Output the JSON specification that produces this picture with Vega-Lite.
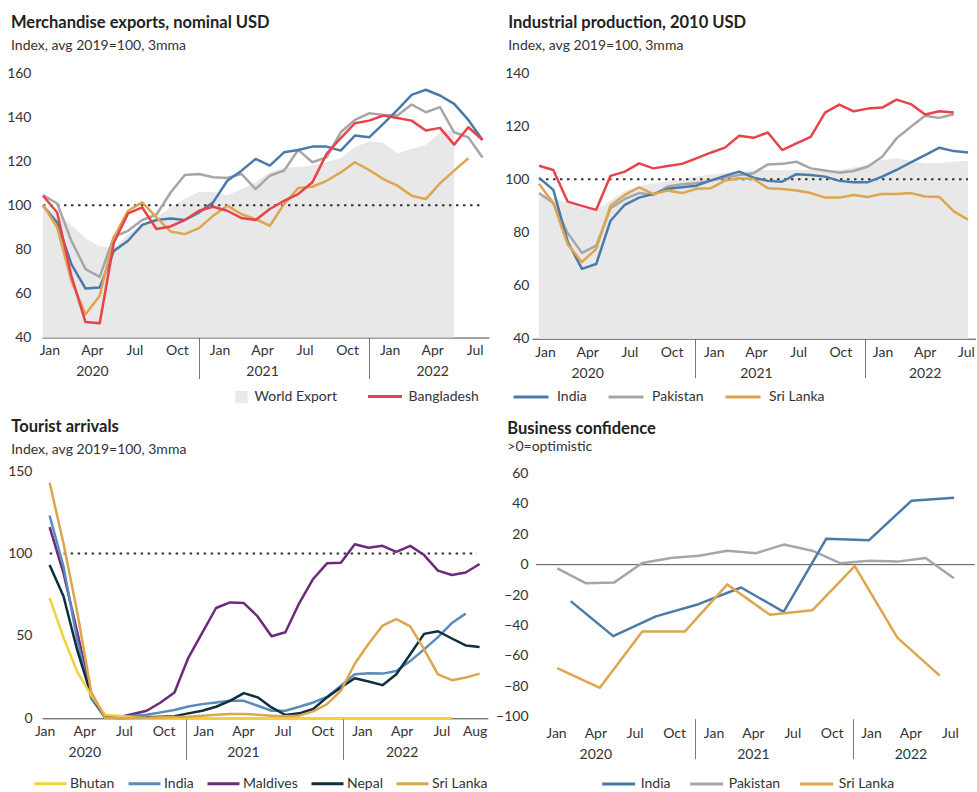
{
 "$schema": "https://vega.github.io/schema/vega-lite/v6.json",
 "background": "white",
 "padding": {"left": 6, "top": 15, "right": 0, "bottom": 0},
 "config": {
  "view": {"stroke": null},
  "font": "Lato",
  "axis": {"labelFont": "Lato", "labelFontSize": 14, "labelColor": "#333", "grid": false, "labelOverlap": false, "labelFlush": false, "labelBound": false},
  "legend": {"labelFont": "Lato", "labelFontSize": 14, "labelColor": "#333"},
  "title": {"font": "Lato", "fontSize": 16.5, "fontWeight": "bold", "color": "#222", "subtitleFont": "Lato", "subtitleFontSize": 14, "subtitleColor": "#333", "subtitlePadding": 7.5, "anchor": "start", "frame": "group"}
 },
 "datasets": {
  "w1": [
   {"t":0,"v":100},{"t":1,"v":96},{"t":2,"v":91},{"t":3,"v":85},{"t":4,"v":81.5},{"t":5,"v":80.5},{"t":6,"v":87},{"t":7,"v":91},{"t":8,"v":94.5},{"t":9,"v":99},
   {"t":10,"v":103},{"t":11,"v":106},{"t":12,"v":106},{"t":13,"v":104.5},{"t":14,"v":107.3},{"t":15,"v":110.4},{"t":16,"v":115},{"t":17,"v":117},{"t":18,"v":117.5},{"t":19,"v":118},
   {"t":20,"v":119.5},{"t":21,"v":121.4},{"t":22,"v":126.3},{"t":23,"v":129},{"t":24,"v":128.3},{"t":25,"v":123.6},{"t":26,"v":125.5},{"t":27,"v":127.5},{"t":28,"v":133},{"t":29,"v":134.5}
  ],
  "l1": [
   {"t":0,"v":104.6,"c":"Pakistan"},{"t":1,"v":100.8,"c":"Pakistan"},{"t":2,"v":83.9,"c":"Pakistan"},{"t":3,"v":71,"c":"Pakistan"},{"t":4,"v":67.5,"c":"Pakistan"},{"t":5,"v":85.7,"c":"Pakistan"},{"t":6,"v":88.4,"c":"Pakistan"},{"t":7,"v":93.3,"c":"Pakistan"},{"t":8,"v":95.7,"c":"Pakistan"},{"t":9,"v":105.8,"c":"Pakistan"},
   {"t":10,"v":113.7,"c":"Pakistan"},{"t":11,"v":114.2,"c":"Pakistan"},{"t":12,"v":112.7,"c":"Pakistan"},{"t":13,"v":112.4,"c":"Pakistan"},{"t":14,"v":114.2,"c":"Pakistan"},{"t":15,"v":107.3,"c":"Pakistan"},{"t":16,"v":113.4,"c":"Pakistan"},{"t":17,"v":115.7,"c":"Pakistan"},{"t":18,"v":125.1,"c":"Pakistan"},{"t":19,"v":119.5,"c":"Pakistan"},
   {"t":20,"v":121.7,"c":"Pakistan"},{"t":21,"v":133.1,"c":"Pakistan"},{"t":22,"v":138.7,"c":"Pakistan"},{"t":23,"v":141.7,"c":"Pakistan"},{"t":24,"v":141,"c":"Pakistan"},{"t":25,"v":140.7,"c":"Pakistan"},{"t":26,"v":145.7,"c":"Pakistan"},{"t":27,"v":142.2,"c":"Pakistan"},{"t":28,"v":144.5,"c":"Pakistan"},{"t":29,"v":133.1,"c":"Pakistan"},
   {"t":30,"v":130.8,"c":"Pakistan"},{"t":31,"v":121.7,"c":"Pakistan"},
   {"t":0,"v":99.8,"c":"India"},{"t":1,"v":92.2,"c":"India"},{"t":2,"v":73.3,"c":"India"},{"t":3,"v":62.2,"c":"India"},{"t":4,"v":62.7,"c":"India"},{"t":5,"v":79.3,"c":"India"},{"t":6,"v":83.9,"c":"India"},{"t":7,"v":91.1,"c":"India"},{"t":8,"v":93.3,"c":"India"},{"t":9,"v":94,"c":"India"},
   {"t":10,"v":93.3,"c":"India"},{"t":11,"v":96.7,"c":"India"},{"t":12,"v":101.3,"c":"India"},{"t":13,"v":111.1,"c":"India"},{"t":14,"v":115.7,"c":"India"},{"t":15,"v":121,"c":"India"},{"t":16,"v":118,"c":"India"},{"t":17,"v":124,"c":"India"},{"t":18,"v":125.1,"c":"India"},{"t":19,"v":126.6,"c":"India"},
   {"t":20,"v":126.6,"c":"India"},{"t":21,"v":124.8,"c":"India"},{"t":22,"v":131.6,"c":"India"},{"t":23,"v":130.8,"c":"India"},{"t":24,"v":136.9,"c":"India"},{"t":25,"v":143.3,"c":"India"},{"t":26,"v":150.1,"c":"India"},{"t":27,"v":152.4,"c":"India"},{"t":28,"v":149.8,"c":"India"},{"t":29,"v":146,"c":"India"},
   {"t":30,"v":138.7,"c":"India"},{"t":31,"v":129.6,"c":"India"},
   {"t":0,"v":100.2,"c":"Sri Lanka"},{"t":1,"v":89.9,"c":"Sri Lanka"},{"t":2,"v":65.7,"c":"Sri Lanka"},{"t":3,"v":50.5,"c":"Sri Lanka"},{"t":4,"v":58.9,"c":"Sri Lanka"},{"t":5,"v":85.4,"c":"Sri Lanka"},{"t":6,"v":97.5,"c":"Sri Lanka"},{"t":7,"v":101.3,"c":"Sri Lanka"},{"t":8,"v":94.5,"c":"Sri Lanka"},{"t":9,"v":88.1,"c":"Sri Lanka"},
   {"t":10,"v":86.9,"c":"Sri Lanka"},{"t":11,"v":89.6,"c":"Sri Lanka"},{"t":12,"v":95.2,"c":"Sri Lanka"},{"t":13,"v":99.8,"c":"Sri Lanka"},{"t":14,"v":96,"c":"Sri Lanka"},{"t":15,"v":93.7,"c":"Sri Lanka"},{"t":16,"v":90.7,"c":"Sri Lanka"},{"t":17,"v":100.5,"c":"Sri Lanka"},{"t":18,"v":107.8,"c":"Sri Lanka"},{"t":19,"v":108.4,"c":"Sri Lanka"},
   {"t":20,"v":111.1,"c":"Sri Lanka"},{"t":21,"v":114.9,"c":"Sri Lanka"},{"t":22,"v":119.5,"c":"Sri Lanka"},{"t":23,"v":116,"c":"Sri Lanka"},{"t":24,"v":111.9,"c":"Sri Lanka"},{"t":25,"v":108.9,"c":"Sri Lanka"},{"t":26,"v":104.3,"c":"Sri Lanka"},{"t":27,"v":102.8,"c":"Sri Lanka"},{"t":28,"v":109.9,"c":"Sri Lanka"},{"t":29,"v":115.7,"c":"Sri Lanka"},
   {"t":30,"v":121.3,"c":"Sri Lanka"},
   {"t":0,"v":104.3,"c":"Bangladesh"},{"t":1,"v":96.7,"c":"Bangladesh"},{"t":2,"v":68,"c":"Bangladesh"},{"t":3,"v":47,"c":"Bangladesh"},{"t":4,"v":46.5,"c":"Bangladesh"},{"t":5,"v":83,"c":"Bangladesh"},{"t":6,"v":96.3,"c":"Bangladesh"},{"t":7,"v":99,"c":"Bangladesh"},{"t":8,"v":89.2,"c":"Bangladesh"},{"t":9,"v":90.4,"c":"Bangladesh"},
   {"t":10,"v":93.3,"c":"Bangladesh"},{"t":11,"v":97.5,"c":"Bangladesh"},{"t":12,"v":99.3,"c":"Bangladesh"},{"t":13,"v":97.5,"c":"Bangladesh"},{"t":14,"v":94.2,"c":"Bangladesh"},{"t":15,"v":93.3,"c":"Bangladesh"},{"t":16,"v":98.3,"c":"Bangladesh"},{"t":17,"v":102,"c":"Bangladesh"},{"t":18,"v":105.1,"c":"Bangladesh"},{"t":19,"v":110.4,"c":"Bangladesh"},
   {"t":20,"v":123.3,"c":"Bangladesh"},{"t":21,"v":130.5,"c":"Bangladesh"},{"t":22,"v":137.2,"c":"Bangladesh"},{"t":23,"v":138.4,"c":"Bangladesh"},{"t":24,"v":140.7,"c":"Bangladesh"},{"t":25,"v":139.6,"c":"Bangladesh"},{"t":26,"v":138.4,"c":"Bangladesh"},{"t":27,"v":133.9,"c":"Bangladesh"},{"t":28,"v":135.1,"c":"Bangladesh"},{"t":29,"v":127.5,"c":"Bangladesh"},
   {"t":30,"v":135.4,"c":"Bangladesh"},{"t":31,"v":129.6,"c":"Bangladesh"}
  ],
  "w2": [
   {"t":0,"v":95},{"t":1,"v":93},{"t":2,"v":91},{"t":3,"v":89},{"t":4,"v":88.5},{"t":5,"v":92},{"t":6,"v":95.5},{"t":7,"v":97.5},{"t":8,"v":98.5},{"t":9,"v":99.3},
   {"t":10,"v":100},{"t":11,"v":101},{"t":12,"v":101.8},{"t":13,"v":102.5},{"t":14,"v":103},{"t":15,"v":103.3},{"t":16,"v":103.5},{"t":17,"v":103.4},{"t":18,"v":103.5},{"t":19,"v":103.5},
   {"t":20,"v":103.3},{"t":21,"v":103.5},{"t":22,"v":104.4},{"t":23,"v":105.4},{"t":24,"v":107.3},{"t":25,"v":107.9},{"t":26,"v":107},{"t":27,"v":106},{"t":28,"v":106},{"t":29,"v":106.6},{"t":30,"v":107}
  ],
  "l2": [
   {"t":0,"v":94.8,"c":"Pakistan"},{"t":1,"v":91,"c":"Pakistan"},{"t":2,"v":79.8,"c":"Pakistan"},{"t":3,"v":72.3,"c":"Pakistan"},{"t":4,"v":75,"c":"Pakistan"},{"t":5,"v":89.1,"c":"Pakistan"},{"t":6,"v":92.6,"c":"Pakistan"},{"t":7,"v":94.8,"c":"Pakistan"},{"t":8,"v":94.1,"c":"Pakistan"},{"t":9,"v":97.3,"c":"Pakistan"},
   {"t":10,"v":98.1,"c":"Pakistan"},{"t":11,"v":98.5,"c":"Pakistan"},{"t":12,"v":99.5,"c":"Pakistan"},{"t":13,"v":100.6,"c":"Pakistan"},{"t":14,"v":101.6,"c":"Pakistan"},{"t":15,"v":102.3,"c":"Pakistan"},{"t":16,"v":105.6,"c":"Pakistan"},{"t":17,"v":105.8,"c":"Pakistan"},{"t":18,"v":106.6,"c":"Pakistan"},{"t":19,"v":104.1,"c":"Pakistan"},
   {"t":20,"v":103.3,"c":"Pakistan"},{"t":21,"v":102.5,"c":"Pakistan"},{"t":22,"v":103.1,"c":"Pakistan"},{"t":23,"v":104.8,"c":"Pakistan"},{"t":24,"v":108.5,"c":"Pakistan"},{"t":25,"v":115.4,"c":"Pakistan"},{"t":26,"v":119.8,"c":"Pakistan"},{"t":27,"v":123.9,"c":"Pakistan"},{"t":28,"v":123.1,"c":"Pakistan"},{"t":29,"v":124.5,"c":"Pakistan"},
   {"t":0,"v":100.6,"c":"India"},{"t":1,"v":96,"c":"India"},{"t":2,"v":76.6,"c":"India"},{"t":3,"v":66.3,"c":"India"},{"t":4,"v":68.1,"c":"India"},{"t":5,"v":84.4,"c":"India"},{"t":6,"v":90.4,"c":"India"},{"t":7,"v":93.1,"c":"India"},{"t":8,"v":94.4,"c":"India"},{"t":9,"v":96.4,"c":"India"},
   {"t":10,"v":97,"c":"India"},{"t":11,"v":97.6,"c":"India"},{"t":12,"v":99.5,"c":"India"},{"t":13,"v":101.3,"c":"India"},{"t":14,"v":102.9,"c":"India"},{"t":15,"v":100.6,"c":"India"},{"t":16,"v":99.4,"c":"India"},{"t":17,"v":99.1,"c":"India"},{"t":18,"v":101.9,"c":"India"},{"t":19,"v":101.6,"c":"India"},
   {"t":20,"v":101,"c":"India"},{"t":21,"v":99.4,"c":"India"},{"t":22,"v":98.9,"c":"India"},{"t":23,"v":98.9,"c":"India"},{"t":24,"v":101,"c":"India"},{"t":25,"v":103.5,"c":"India"},{"t":26,"v":106.4,"c":"India"},{"t":27,"v":109.1,"c":"India"},{"t":28,"v":111.9,"c":"India"},{"t":29,"v":110.6,"c":"India"},{"t":30,"v":110.1,"c":"India"},
   {"t":0,"v":98.3,"c":"Sri Lanka"},{"t":1,"v":91,"c":"Sri Lanka"},{"t":2,"v":75.6,"c":"Sri Lanka"},{"t":3,"v":68.8,"c":"Sri Lanka"},{"t":4,"v":73.8,"c":"Sri Lanka"},{"t":5,"v":90.1,"c":"Sri Lanka"},{"t":6,"v":94.1,"c":"Sri Lanka"},{"t":7,"v":97,"c":"Sri Lanka"},{"t":8,"v":94.4,"c":"Sri Lanka"},{"t":9,"v":95.8,"c":"Sri Lanka"},
   {"t":10,"v":94.8,"c":"Sri Lanka"},{"t":11,"v":96.4,"c":"Sri Lanka"},{"t":12,"v":96.6,"c":"Sri Lanka"},{"t":13,"v":99.5,"c":"Sri Lanka"},{"t":14,"v":100.4,"c":"Sri Lanka"},{"t":15,"v":100.1,"c":"Sri Lanka"},{"t":16,"v":96.6,"c":"Sri Lanka"},{"t":17,"v":96.3,"c":"Sri Lanka"},{"t":18,"v":95.8,"c":"Sri Lanka"},{"t":19,"v":94.8,"c":"Sri Lanka"},
   {"t":20,"v":93.1,"c":"Sri Lanka"},{"t":21,"v":93.1,"c":"Sri Lanka"},{"t":22,"v":94.1,"c":"Sri Lanka"},{"t":23,"v":93.3,"c":"Sri Lanka"},{"t":24,"v":94.5,"c":"Sri Lanka"},{"t":25,"v":94.5,"c":"Sri Lanka"},{"t":26,"v":94.8,"c":"Sri Lanka"},{"t":27,"v":93.5,"c":"Sri Lanka"},{"t":28,"v":93.3,"c":"Sri Lanka"},{"t":29,"v":87.9,"c":"Sri Lanka"},{"t":30,"v":84.8,"c":"Sri Lanka"},
   {"t":0,"v":105.1,"c":"Bangladesh"},{"t":1,"v":103.5,"c":"Bangladesh"},{"t":2,"v":91.6,"c":"Bangladesh"},{"t":3,"v":90,"c":"Bangladesh"},{"t":4,"v":88.5,"c":"Bangladesh"},{"t":5,"v":101.3,"c":"Bangladesh"},{"t":6,"v":102.9,"c":"Bangladesh"},{"t":7,"v":106,"c":"Bangladesh"},{"t":8,"v":104.1,"c":"Bangladesh"},{"t":9,"v":105,"c":"Bangladesh"},
   {"t":10,"v":105.8,"c":"Bangladesh"},{"t":11,"v":107.9,"c":"Bangladesh"},{"t":12,"v":110,"c":"Bangladesh"},{"t":13,"v":111.9,"c":"Bangladesh"},{"t":14,"v":116.4,"c":"Bangladesh"},{"t":15,"v":115.6,"c":"Bangladesh"},{"t":16,"v":117.6,"c":"Bangladesh"},{"t":17,"v":111,"c":"Bangladesh"},{"t":18,"v":113.5,"c":"Bangladesh"},{"t":19,"v":116,"c":"Bangladesh"},
   {"t":20,"v":125.1,"c":"Bangladesh"},{"t":21,"v":128.1,"c":"Bangladesh"},{"t":22,"v":125.6,"c":"Bangladesh"},{"t":23,"v":126.6,"c":"Bangladesh"},{"t":24,"v":127,"c":"Bangladesh"},{"t":25,"v":130,"c":"Bangladesh"},{"t":26,"v":128.3,"c":"Bangladesh"},{"t":27,"v":124.4,"c":"Bangladesh"},{"t":28,"v":125.6,"c":"Bangladesh"},{"t":29,"v":125.1,"c":"Bangladesh"}
  ],
  "l3": [
   {"t":0,"v":116,"c":"Maldives"},{"t":1,"v":88,"c":"Maldives"},{"t":2,"v":52,"c":"Maldives"},{"t":3,"v":14,"c":"Maldives"},{"t":4,"v":0.3,"c":"Maldives"},{"t":5,"v":0.6,"c":"Maldives"},{"t":6,"v":2.6,"c":"Maldives"},{"t":7,"v":4.6,"c":"Maldives"},{"t":8,"v":9.6,"c":"Maldives"},{"t":9,"v":15.7,"c":"Maldives"},
   {"t":10,"v":36.7,"c":"Maldives"},{"t":11,"v":51.8,"c":"Maldives"},{"t":12,"v":66.9,"c":"Maldives"},{"t":13,"v":70.3,"c":"Maldives"},{"t":14,"v":69.9,"c":"Maldives"},{"t":15,"v":61.8,"c":"Maldives"},{"t":16,"v":49.8,"c":"Maldives"},{"t":17,"v":52.2,"c":"Maldives"},{"t":18,"v":69.9,"c":"Maldives"},{"t":19,"v":84.5,"c":"Maldives"},
   {"t":20,"v":94,"c":"Maldives"},{"t":21,"v":94.4,"c":"Maldives"},{"t":22,"v":105.6,"c":"Maldives"},{"t":23,"v":103.4,"c":"Maldives"},{"t":24,"v":104.6,"c":"Maldives"},{"t":25,"v":101,"c":"Maldives"},{"t":26,"v":104.6,"c":"Maldives"},{"t":27,"v":99,"c":"Maldives"},{"t":28,"v":89.6,"c":"Maldives"},{"t":29,"v":86.9,"c":"Maldives"},
   {"t":30,"v":88.4,"c":"Maldives"},{"t":31,"v":93.6,"c":"Maldives"},
   {"t":0,"v":123,"c":"India"},{"t":1,"v":92,"c":"India"},{"t":2,"v":47,"c":"India"},{"t":3,"v":12,"c":"India"},{"t":4,"v":0.3,"c":"India"},{"t":5,"v":0.6,"c":"India"},{"t":6,"v":1.6,"c":"India"},{"t":7,"v":2.2,"c":"India"},{"t":8,"v":3.6,"c":"India"},{"t":9,"v":5,"c":"India"},
   {"t":10,"v":7.2,"c":"India"},{"t":11,"v":8.6,"c":"India"},{"t":12,"v":9.6,"c":"India"},{"t":13,"v":10.6,"c":"India"},{"t":14,"v":10.6,"c":"India"},{"t":15,"v":7.6,"c":"India"},{"t":16,"v":4.6,"c":"India"},{"t":17,"v":4.6,"c":"India"},{"t":18,"v":7,"c":"India"},{"t":19,"v":9.6,"c":"India"},
   {"t":20,"v":13,"c":"India"},{"t":21,"v":19.7,"c":"India"},{"t":22,"v":26.7,"c":"India"},{"t":23,"v":27.3,"c":"India"},{"t":24,"v":27.1,"c":"India"},{"t":25,"v":28.7,"c":"India"},{"t":26,"v":34.7,"c":"India"},{"t":27,"v":41.8,"c":"India"},{"t":28,"v":49.2,"c":"India"},{"t":29,"v":57.8,"c":"India"},{"t":30,"v":63.5,"c":"India"},
   {"t":0,"v":93,"c":"Nepal"},{"t":1,"v":74,"c":"Nepal"},{"t":2,"v":41,"c":"Nepal"},{"t":3,"v":14,"c":"Nepal"},{"t":4,"v":0.6,"c":"Nepal"},{"t":5,"v":0.2,"c":"Nepal"},{"t":6,"v":0.4,"c":"Nepal"},{"t":7,"v":0.6,"c":"Nepal"},{"t":8,"v":1,"c":"Nepal"},{"t":9,"v":1.2,"c":"Nepal"},
   {"t":10,"v":3,"c":"Nepal"},{"t":11,"v":4.6,"c":"Nepal"},{"t":12,"v":7,"c":"Nepal"},{"t":13,"v":10.6,"c":"Nepal"},{"t":14,"v":15.3,"c":"Nepal"},{"t":15,"v":12.7,"c":"Nepal"},{"t":16,"v":6.6,"c":"Nepal"},{"t":17,"v":2,"c":"Nepal"},{"t":18,"v":3,"c":"Nepal"},{"t":19,"v":5.6,"c":"Nepal"},
   {"t":20,"v":12.7,"c":"Nepal"},{"t":21,"v":18.7,"c":"Nepal"},{"t":22,"v":24.3,"c":"Nepal"},{"t":23,"v":22.3,"c":"Nepal"},{"t":24,"v":20.1,"c":"Nepal"},{"t":25,"v":26.7,"c":"Nepal"},{"t":26,"v":38.8,"c":"Nepal"},{"t":27,"v":51.2,"c":"Nepal"},{"t":28,"v":52.8,"c":"Nepal"},{"t":29,"v":48.4,"c":"Nepal"},
   {"t":30,"v":44.2,"c":"Nepal"},{"t":31,"v":43.2,"c":"Nepal"},
   {"t":0,"v":73,"c":"Bhutan"},{"t":1,"v":49,"c":"Bhutan"},{"t":2,"v":28,"c":"Bhutan"},{"t":3,"v":14,"c":"Bhutan"},{"t":4,"v":2,"c":"Bhutan"},{"t":5,"v":1.6,"c":"Bhutan"},{"t":6,"v":0.6,"c":"Bhutan"},{"t":7,"v":0,"c":"Bhutan"},{"t":8,"v":0,"c":"Bhutan"},{"t":9,"v":0,"c":"Bhutan"},
   {"t":10,"v":0,"c":"Bhutan"},{"t":11,"v":0,"c":"Bhutan"},{"t":12,"v":0,"c":"Bhutan"},{"t":13,"v":0,"c":"Bhutan"},{"t":14,"v":0,"c":"Bhutan"},{"t":15,"v":0,"c":"Bhutan"},{"t":16,"v":0,"c":"Bhutan"},{"t":17,"v":0,"c":"Bhutan"},{"t":18,"v":0,"c":"Bhutan"},{"t":19,"v":0,"c":"Bhutan"},
   {"t":20,"v":0,"c":"Bhutan"},{"t":21,"v":0,"c":"Bhutan"},{"t":22,"v":0,"c":"Bhutan"},{"t":23,"v":0,"c":"Bhutan"},{"t":24,"v":0,"c":"Bhutan"},{"t":25,"v":0,"c":"Bhutan"},{"t":26,"v":0,"c":"Bhutan"},{"t":27,"v":0,"c":"Bhutan"},{"t":28,"v":0,"c":"Bhutan"},{"t":29,"v":0,"c":"Bhutan"},
   {"t":0,"v":143,"c":"Sri Lanka"},{"t":1,"v":106,"c":"Sri Lanka"},{"t":2,"v":64,"c":"Sri Lanka"},{"t":3,"v":16,"c":"Sri Lanka"},{"t":4,"v":0.2,"c":"Sri Lanka"},{"t":5,"v":0.2,"c":"Sri Lanka"},{"t":6,"v":0.2,"c":"Sri Lanka"},{"t":7,"v":0.4,"c":"Sri Lanka"},{"t":8,"v":0.6,"c":"Sri Lanka"},{"t":9,"v":0.8,"c":"Sri Lanka"},
   {"t":10,"v":1,"c":"Sri Lanka"},{"t":11,"v":1.5,"c":"Sri Lanka"},{"t":12,"v":2.2,"c":"Sri Lanka"},{"t":13,"v":2.6,"c":"Sri Lanka"},{"t":14,"v":2.6,"c":"Sri Lanka"},{"t":15,"v":2.2,"c":"Sri Lanka"},{"t":16,"v":1.6,"c":"Sri Lanka"},{"t":17,"v":1.2,"c":"Sri Lanka"},{"t":18,"v":1.6,"c":"Sri Lanka"},{"t":19,"v":4.2,"c":"Sri Lanka"},
   {"t":20,"v":8.6,"c":"Sri Lanka"},{"t":21,"v":16.7,"c":"Sri Lanka"},{"t":22,"v":33.1,"c":"Sri Lanka"},{"t":23,"v":45.2,"c":"Sri Lanka"},{"t":24,"v":56.2,"c":"Sri Lanka"},{"t":25,"v":60.2,"c":"Sri Lanka"},{"t":26,"v":55.8,"c":"Sri Lanka"},{"t":27,"v":41.8,"c":"Sri Lanka"},{"t":28,"v":26.7,"c":"Sri Lanka"},{"t":29,"v":23.1,"c":"Sri Lanka"},
   {"t":30,"v":24.7,"c":"Sri Lanka"},{"t":31,"v":27.1,"c":"Sri Lanka"}
  ],
  "l4": [
   {"t":0.6,"v":-2.4,"c":"Pakistan"},{"t":2.76,"v":-12.2,"c":"Pakistan"},{"t":4.92,"v":-11.8,"c":"Pakistan"},{"t":7.07,"v":1.1,"c":"Pakistan"},{"t":9.23,"v":4.4,"c":"Pakistan"},{"t":11.39,"v":5.9,"c":"Pakistan"},{"t":13.55,"v":9.2,"c":"Pakistan"},{"t":15.71,"v":7.5,"c":"Pakistan"},
   {"t":17.86,"v":13.2,"c":"Pakistan"},{"t":20.02,"v":9.2,"c":"Pakistan"},{"t":22.18,"v":0.9,"c":"Pakistan"},{"t":24.34,"v":2.6,"c":"Pakistan"},{"t":26.5,"v":2,"c":"Pakistan"},{"t":28.65,"v":4.4,"c":"Pakistan"},{"t":30.81,"v":-9,"c":"Pakistan"},
   {"t":1.62,"v":-24,"c":"India"},{"t":4.86,"v":-47,"c":"India"},{"t":8.11,"v":-34,"c":"India"},{"t":11.35,"v":-26,"c":"India"},{"t":14.6,"v":-15,"c":"India"},{"t":17.84,"v":-31,"c":"India"},{"t":21.08,"v":17,"c":"India"},{"t":24.33,"v":16,"c":"India"},{"t":27.57,"v":42,"c":"India"},{"t":30.82,"v":44,"c":"India"},
   {"t":0.6,"v":-68,"c":"Sri Lanka"},{"t":3.84,"v":-81,"c":"Sri Lanka"},{"t":7.07,"v":-44,"c":"Sri Lanka"},{"t":10.31,"v":-44,"c":"Sri Lanka"},{"t":13.55,"v":-13,"c":"Sri Lanka"},{"t":16.79,"v":-33,"c":"Sri Lanka"},{"t":20.02,"v":-30,"c":"Sri Lanka"},{"t":23.26,"v":-1,"c":"Sri Lanka"},{"t":26.5,"v":-48,"c":"Sri Lanka"},{"t":29.73,"v":-73,"c":"Sri Lanka"}
  ]
 },
 "resolve": {"scale": {"stroke": "independent", "fill": "independent"}},
 "spacing": 14,
 "vconcat": [
  {
   "resolve": {"scale": {"stroke": "independent", "fill": "independent"}},
   "spacing": 15,
   "hconcat": [
    {
     "width": 446.9, "height": 264.5,
     "title": {"text": "Merchandise exports, nominal USD", "subtitle": "Index, avg 2019=100, 3mma", "dx": -31, "offset": 13},
     "encoding": {
      "x": {"field": "t", "type": "quantitative", "scale": {"domain": [-0.07, 31.45], "nice": false, "zero": false},
       "axis": {"values": [0.45,3.45,6.45,9.45,11,12.45,15.45,18.45,21.45,23,24.45,27.45,30.45],
        "labelExpr": "datum.value == 11 || datum.value == 23 ? '' : round((datum.value - 0.45) / 3) % 4 == 1 ? ['Apr', '' + (2020 + floor(round((datum.value - 0.45) / 3) / 4))] : ['Jan', 'Apr', 'Jul', 'Oct'][round((datum.value - 0.45) / 3) % 4]",
        "title": null, "domain": true, "domainColor": "#444", "ticks": true, "tickSize": 41, "tickColor": "#777",
        "tickOpacity": {"condition": {"test": "datum.value == 11 || datum.value == 23", "value": 1}, "value": 0},
        "labelPadding": -35.5, "labelLineHeight": 21, "labelFlush": false, "labelOverlap": false, "labelBound": false}},
      "y": {"field": "v", "type": "quantitative", "scale": {"domain": [40, 160], "nice": false, "zero": false},
       "axis": {"values": [40,60,80,100,120,140,160], "domain": false, "ticks": false, "labelPadding": 11, "title": null, "labelOverlap": false}}
     },
     "layer": [
      {"data": {"name": "w1"}, "mark": {"type": "area"},
       "encoding": {
        "y2": {"datum": 40},
        "fill": {"datum": "World Export", "type": "nominal", "scale": {"domain": ["World Export"], "range": ["#e8e8e8"]},
         "legend": {"orient": "none", "legendX": 192.5, "legendY": 317, "title": null, "symbolType": "square", "symbolSize": 150, "symbolOpacity": 1, "labelOffset": 6}}
       }},
      {"data": {"values": [{"t": 0, "v": 100}, {"t": 30.8, "v": 100}]}, "mark": {"type": "line", "strokeDash": [2.5, 4.5], "strokeWidth": 2, "color": "#333"}, "encoding": {}},
      {"data": {"name": "l1"}, "mark": {"type": "line", "strokeWidth": 2.5, "strokeJoin": "round"},
       "encoding": {
        "stroke": {"field": "c", "type": "nominal", "sort": null, "scale": {"domain": ["Bangladesh", "India", "Pakistan", "Sri Lanka"], "range": ["#e8424a", "#4a7aaa", "#a6a6a6", "#dea54f"]},
         "legend": {"orient": "none", "legendX": 324.5, "legendY": 305, "title": null, "values": ["Bangladesh"], "symbolType": "stroke", "symbolSize": 1156, "symbolStrokeWidth": 3, "labelOffset": 5}}
       }}
     ]
    },
    {
     "width": 443.9, "height": 265.7,
     "title": {"text": "Industrial production, 2010 USD", "subtitle": "Index, avg 2019=100, 3mma", "dx": -23.7, "offset": 13},
     "encoding": {
      "x": {"field": "t", "type": "quantitative", "scale": {"domain": [-0.49, 30.55], "nice": false, "zero": false},
       "axis": {"values": [0.42,3.37,6.32,9.27,10.9,12.22,15.17,18.12,21.07,22.8,24.02,26.97,29.85],
        "labelExpr": "datum.value == 10.9 || datum.value == 22.8 ? '' : round((datum.value - 0.42) / 2.95) % 4 == 1 ? ['Apr', '' + (2020 + floor(round((datum.value - 0.42) / 2.95) / 4))] : ['Jan', 'Apr', 'Jul', 'Oct'][round((datum.value - 0.42) / 2.95) % 4]",
        "title": null, "domain": true, "domainColor": "#444", "ticks": true, "tickSize": 39, "tickColor": "#777",
        "tickOpacity": {"condition": {"test": "datum.value == 10.9 || datum.value == 22.8", "value": 1}, "value": 0},
        "labelPadding": -32.7, "labelLineHeight": 21, "labelFlush": false, "labelOverlap": false, "labelBound": false}},
      "y": {"field": "v", "type": "quantitative", "scale": {"domain": [40, 140], "nice": false, "zero": false},
       "axis": {"values": [40,60,80,100,120,140], "domain": false, "ticks": false, "labelPadding": 3, "title": null, "labelOverlap": false}}
     },
     "layer": [
      {"data": {"name": "w2"}, "mark": {"type": "area"},
       "encoding": {
        "y2": {"datum": 40},
        "fill": {"datum": "World", "type": "nominal", "scale": {"domain": ["World"], "range": ["#e8e8e8"]}, "legend": null}
       }},
      {"data": {"values": [{"t": 0, "v": 100}, {"t": 30, "v": 100}]}, "mark": {"type": "line", "strokeDash": [2.5, 4.5], "strokeWidth": 2, "color": "#333"}, "encoding": {}},
      {"data": {"name": "l2"}, "mark": {"type": "line", "strokeWidth": 2.5, "strokeJoin": "round"},
       "encoding": {
        "stroke": {"field": "c", "type": "nominal", "scale": {"domain": ["India", "Pakistan", "Sri Lanka", "Bangladesh"], "range": ["#4a7aaa", "#a6a6a6", "#dea54f", "#e8424a"]},
         "legend": {"orient": "none", "legendX": -20, "legendY": 305, "title": null, "direction": "horizontal", "columns": 3, "columnPadding": 15, "values": ["India", "Pakistan", "Sri Lanka"], "symbolType": "stroke", "symbolSize": 1225, "symbolStrokeWidth": 3, "labelOffset": 7}}
       }}
     ]
    }
   ]
  },
  {
   "resolve": {"scale": {"stroke": "independent", "fill": "independent"}},
   "spacing": 7,
   "hconcat": [
    {
     "width": 445.9, "height": 247.3,
     "title": {"text": "Tourist arrivals", "subtitle": "Index, avg 2019=100, 3mma", "dx": -30.7, "offset": 7.5},
     "encoding": {
      "x": {"field": "t", "type": "quantitative", "scale": {"domain": [-0.55, 31.6], "nice": false, "zero": false},
       "axis": {"values": [-0.36,2.5,5.36,8.22,9.8,11.08,13.94,16.8,19.66,21.15,22.52,25.38,28.24,30.64],
        "labelExpr": "datum.value == 9.8 || datum.value == 21.15 ? '' : datum.value > 30 ? 'Aug' : round((datum.value + 0.36) / 2.86) % 4 == 1 ? ['Apr', '' + (2020 + floor(round((datum.value + 0.36) / 2.86) / 4))] : ['Jan', 'Apr', 'Jul', 'Oct'][round((datum.value + 0.36) / 2.86) % 4]",
        "title": null, "domain": true, "domainColor": "#444", "ticks": true, "tickSize": 41, "tickColor": "#777",
        "tickOpacity": {"condition": {"test": "datum.value == 9.8 || datum.value == 21.15", "value": 1}, "value": 0},
        "labelPadding": -34.6, "labelLineHeight": 20.5, "labelFlush": false, "labelOverlap": false, "labelBound": false}},
      "y": {"field": "v", "type": "quantitative", "scale": {"domain": [0, 150], "nice": false},
       "axis": {"values": [0,50,100,150], "domain": false, "ticks": false, "labelPadding": 10, "title": null, "labelOverlap": false}}
     },
     "layer": [
      {"data": {"values": [{"t": 0, "v": 100}, {"t": 30.8, "v": 100}]}, "mark": {"type": "line", "strokeDash": [2.5, 4.5], "strokeWidth": 2, "color": "#333"}, "encoding": {}},
      {"data": {"name": "l3"}, "mark": {"type": "line", "strokeWidth": 2.5, "strokeJoin": "round"},
       "encoding": {
        "stroke": {"field": "c", "type": "nominal", "scale": {"domain": ["Bhutan", "India", "Maldives", "Nepal", "Sri Lanka"], "range": ["#f0d23c", "#5a8bbb", "#6c2a7c", "#0e2f3d", "#dea54f"]},
         "legend": {"orient": "none", "legendX": -9, "legendY": 295, "title": null, "direction": "horizontal", "columns": 5, "columnPadding": 7, "symbolType": "stroke", "symbolSize": 1024, "symbolStrokeWidth": 3, "labelOffset": 2}}
       }}
     ]
    },
    {
     "width": 438.8, "height": 245.7,
     "title": {"text": "Business confidence", "subtitle": ">0=optimistic", "dx": -28.7, "offset": 12, "subtitlePadding": 2.5},
     "encoding": {
      "y": {"field": "v", "type": "quantitative", "scale": {"domain": [-100, 61.6], "nice": false, "zero": false},
       "axis": {"values": [-100,-80,-60,-40,-20,0,20,40,60], "domain": false, "ticks": false, "labelPadding": 8, "title": null, "labelOverlap": false}}
     },
     "layer": [
      {"data": {"values": [{"v": 0}]}, "mark": {"type": "rule", "color": "#555", "strokeWidth": 1}, "encoding": {}},
      {"data": {"name": "l4"}, "mark": {"type": "line", "strokeWidth": 2.5, "strokeJoin": "round"},
       "encoding": {
        "x": {"field": "t", "type": "quantitative", "scale": {"domain": [-1.02, 32.4], "nice": false, "zero": false},
         "axis": {"values": [0.5,3.5,6.5,9.5,11.1,12.5,15.5,18.5,21.5,23.1,24.5,27.5,30.5],
          "labelExpr": "datum.value == 11.1 || datum.value == 23.1 ? '' : round((datum.value - 0.5) / 3) % 4 == 1 ? ['Apr', '' + (2020 + floor(round((datum.value - 0.5) / 3) / 4))] : ['Jan', 'Apr', 'Jul', 'Oct'][round((datum.value - 0.5) / 3) % 4]",
          "title": null, "domain": false, "offset": 2, "ticks": true, "tickSize": 40, "tickColor": "#777",
          "tickOpacity": {"condition": {"test": "datum.value == 11.1 || datum.value == 23.1", "value": 1}, "value": 0},
          "labelPadding": -32, "labelLineHeight": 21, "labelFlush": false, "labelOverlap": false, "labelBound": false}},
        "stroke": {"field": "c", "type": "nominal", "scale": {"domain": ["India", "Pakistan", "Sri Lanka"], "range": ["#4a7aaa", "#a6a6a6", "#dea54f"]},
         "legend": {"orient": "none", "legendX": 64.7, "legendY": 295, "title": null, "direction": "horizontal", "columns": 3, "columnPadding": 13, "symbolType": "stroke", "symbolSize": 1089, "symbolStrokeWidth": 3, "labelOffset": 4}}
       }}
     ]
    }
   ]
  }
 ]
}
